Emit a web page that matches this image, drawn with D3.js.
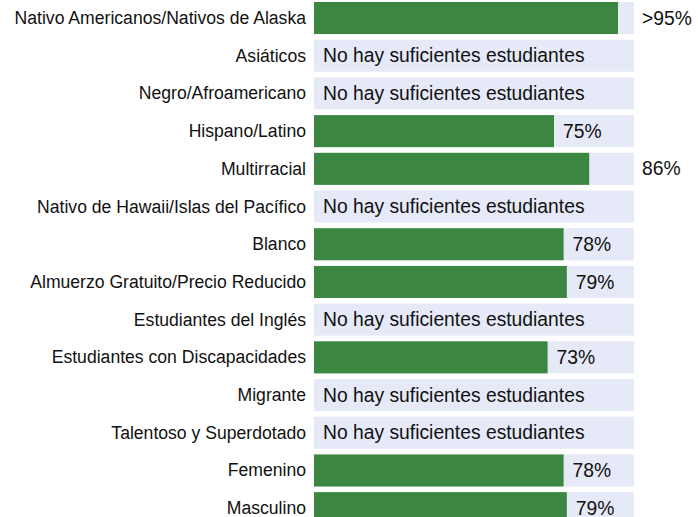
<!DOCTYPE html>
<html>
<head>
<meta charset="utf-8">
<script src="https://cdn.jsdelivr.net/npm/d3@7"></script>
<style>
  body { margin: 0; background: #fff; }
  svg { display: block; font-family: Arial, "Liberation Sans", sans-serif; }
</style>
</head>
<body>
<div id="chart"></div>
<script>
const categories = [
  "Nativo Americanos/Nativos de Alaska",
  "Asiáticos",
  "Negro/Afroamericano",
  "Hispano/Latino",
  "Multirracial",
  "Nativo de Hawaii/Islas del Pacífico",
  "Blanco",
  "Almuerzo Gratuito/Precio Reducido",
  "Estudiantes del Inglés",
  "Estudiantes con Discapacidades",
  "Migrante",
  "Talentoso y Superdotado",
  "Femenino",
  "Masculino"
];
// null = not enough students
const values = [95, null, null, 75, 86, null, 78, 79, null, 73, null, null, 78, 79];
const valueLabels = [">95%", null, null, "75%", "86%", null, "78%", "79%", null, "73%", null, null, "78%", "79%"];
const noDataText = "No hay suficientes estudiantes";

const width = 698, height = 517;
const margin = {top: 2, right: 64, bottom: 0, left: 314};
const innerW = width - margin.left - margin.right;
const rowStep = 37.3;

const svg = d3.select("#chart").append("svg")
  .attr("width", width)
  .attr("height", height);

const g = svg.append("g")
  .attr("transform", `translate(${margin.left}, ${margin.top})`);

const x = d3.scaleLinear().domain([0, 100]).range([0, innerW]);
const y = d3.scaleBand()
  .domain(categories)
  .range([0, rowStep * categories.length])
  .paddingInner(0.15)
  .paddingOuter(0);

const rows = categories.map((c, i) => ({cat: c, value: values[i], label: valueLabels[i]}));

// background tracks
g.selectAll(".track")
  .data(rows)
  .enter().append("rect")
    .attr("class", "track")
    .attr("x", 0)
    .attr("y", d => y(d.cat))
    .attr("width", x(100))
    .attr("height", y.bandwidth())
    .attr("fill", "#e6e9f7");

// bars
g.selectAll(".bar")
  .data(rows.filter(d => d.value != null))
  .enter().append("rect")
    .attr("class", "bar")
    .attr("x", 0)
    .attr("y", d => y(d.cat))
    .attr("width", d => x(d.value))
    .attr("height", y.bandwidth())
    .attr("fill", "#3b8640");

// category labels
g.selectAll(".cat")
  .data(rows)
  .enter().append("text")
    .attr("class", "cat")
    .attr("x", -8)
    .attr("y", d => y(d.cat) + y.bandwidth() / 2)
    .attr("dy", "0.34em")
    .attr("text-anchor", "end")
    .attr("font-size", 17.6)
    .attr("fill", "#111")
    .text(d => d.cat);

// value labels: inside the track after the bar, or past the track when it doesn't fit
g.selectAll(".val")
  .data(rows.filter(d => d.value != null))
  .enter().append("text")
    .attr("class", "val")
    .attr("x", d => x(d.value) + 9 + 50 > x(100) ? x(100) + 8 : x(d.value) + 9)
    .attr("y", d => y(d.cat) + y.bandwidth() / 2)
    .attr("dy", "0.34em")
    .attr("font-size", 19.3)
    .attr("fill", "#111")
    .text(d => d.label);

// no data text
g.selectAll(".nodata")
  .data(rows.filter(d => d.value == null))
  .enter().append("text")
    .attr("class", "nodata")
    .attr("x", 9)
    .attr("y", d => y(d.cat) + y.bandwidth() / 2)
    .attr("dy", "0.34em")
    .attr("font-size", 19.3)
    .attr("fill", "#111")
    .text(noDataText);
</script>
</body>
</html>
